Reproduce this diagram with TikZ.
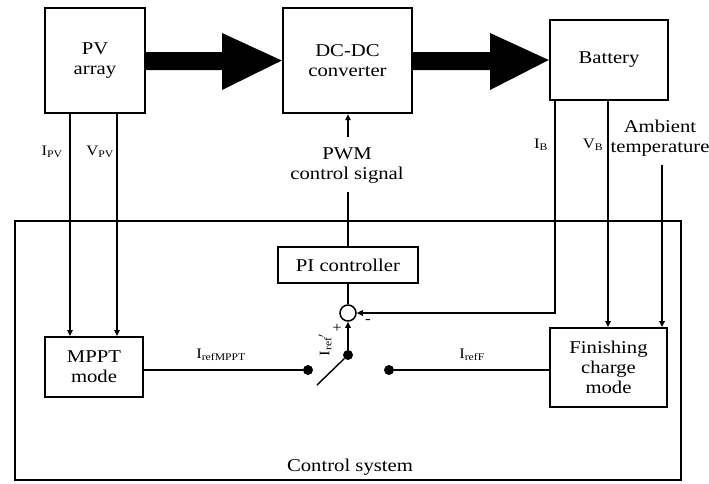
\documentclass[tikz,border=0pt]{standalone}
\usepackage{fontspec}
\setmainfont[FakeStretch=1.15]{Liberation Serif}
\usetikzlibrary{arrows.meta,calc}
\begin{document}
\begin{tikzpicture}[x=1pt,y=-1pt,
  font=\fontsize{18}{20}\selectfont,
  bigbox/.style={draw,line width=2.4pt,minimum width=#1,inner sep=0pt,align=center},
  midbox/.style={draw,line width=1.9pt,inner sep=0pt,align=center},
  sig/.style={line width=1.4pt},
  sigarr/.style={line width=1.4pt,-{Triangle[length=6pt,width=5.5pt]}},
  lbl/.style={font=\fontsize{14.5}{16}\selectfont,inner sep=0pt},
  bigarrow/.style={fill=black,draw=none},
  dotnode/.style={circle,fill=black,inner sep=0pt,minimum size=10pt}
]
\useasboundingbox (0,0) rectangle (709,483);
% main blocks
\node[bigbox=100pt,minimum height=105pt] (pv) at (95,60.5) {PV\\array};
\node[bigbox=129pt,minimum height=105pt] (dcdc) at (347.5,60.5) {DC-DC\\converter};
\node[bigbox=118pt,minimum height=80pt] (bat) at (609,60) {Battery};
% big arrows
\fill[bigarrow] (pv.east |- 0,52) -- (222,52) -- (222,33) -- (dcdc.west) -- (222,90) -- (222,70) -- (pv.east |- 0,70) -- cycle;
\fill[bigarrow] (dcdc.east |- 0,52) -- (490,52) -- (490,33) -- (bat.west) -- (490,90) -- (490,70) -- (dcdc.east |- 0,70) -- cycle;
% control system
\node[draw,line width=2.2pt,minimum width=666pt,minimum height=259pt,inner sep=0pt] (ctrl) at (348,350.5) {};
\node (ctrllbl) at (350,467) {Control system};
\node[midbox,minimum width=98pt,minimum height=60pt] (mppt) at (94,367) {MPPT\\mode};
\node[midbox,minimum width=140pt,minimum height=36pt] (pi) at (348,265) {PI controller};
\node[midbox,minimum width=117pt,minimum height=79pt] (fin) at (608.5,367.5) {Finishing\\charge\\mode};
\node[draw,circle,line width=1.5pt,minimum size=16pt,inner sep=0pt] (sum) at (348,313) {};
\node[dotnode] (pivot) at (348,355) {};
\node[dotnode] (dotL) at (308,370) {};
\node[dotnode] (dotR) at (389,370) {};
\coordinate (blade) at (317,385);
% helper coordinates
\coordinate (xipv) at (70,0);
\coordinate (xvpv) at (117,0);
\coordinate (xib) at (555,0);
\coordinate (xvb) at (608,0);
\coordinate (xamb) at (662,0);
\coordinate (pwmtop) at (348,137);
\coordinate (pwmbot) at (348,192);
\coordinate (ambend) at (662,165);
% PV measurements
\draw[sigarr] (pv.south -| xipv) -- (mppt.north -| xipv);
\draw[sigarr] (pv.south -| xvpv) -- (mppt.north -| xvpv);
\node[lbl] at (52,152) {I\textsubscript{PV}};
\node[lbl] at (100,152) {V\textsubscript{PV}};
% PWM
\draw[sigarr] (pwmtop) -- (dcdc.south -| pwmtop);
\draw[sig] (pi.north) -- (pwmbot);
\node[align=center,inner sep=0pt] (pwm) at (347,166) {PWM\\control signal};
% battery measurements
\draw[sigarr] (bat.south -| xib) |- (sum.east);
\draw[sigarr] (bat.south -| xvb) -- (fin.north -| xvb);
\draw[sigarr] (ambend) -- (fin.north -| xamb);
\node[lbl] at (541,145) {I\textsubscript{B}};
\node[lbl] at (593,145) {V\textsubscript{B}};
\node[align=center,inner sep=0pt] (amb) at (660,138) {Ambient\\temperature};
% control loop
\draw[sig] (pi.south) -- (sum.north);
\draw[sigarr] (pivot) -- (sum.south);
\draw[sig] (pivot) -- (blade);
\draw[sig] (mppt.east |- dotL) -- (dotL);
\draw[sig] (dotR) -- (fin.west |- dotR);
\node[lbl] at (221,355) {I\textsubscript{refMPPT}};
\node[lbl] at (472,355) {I\textsubscript{refF}};
\node[lbl,rotate=90] at (325,345) {I\textsubscript{ref}$'$};
\node[lbl] at (337,328) {+};
\node[lbl] at (368,322) {-};
\end{tikzpicture}
\end{document}
